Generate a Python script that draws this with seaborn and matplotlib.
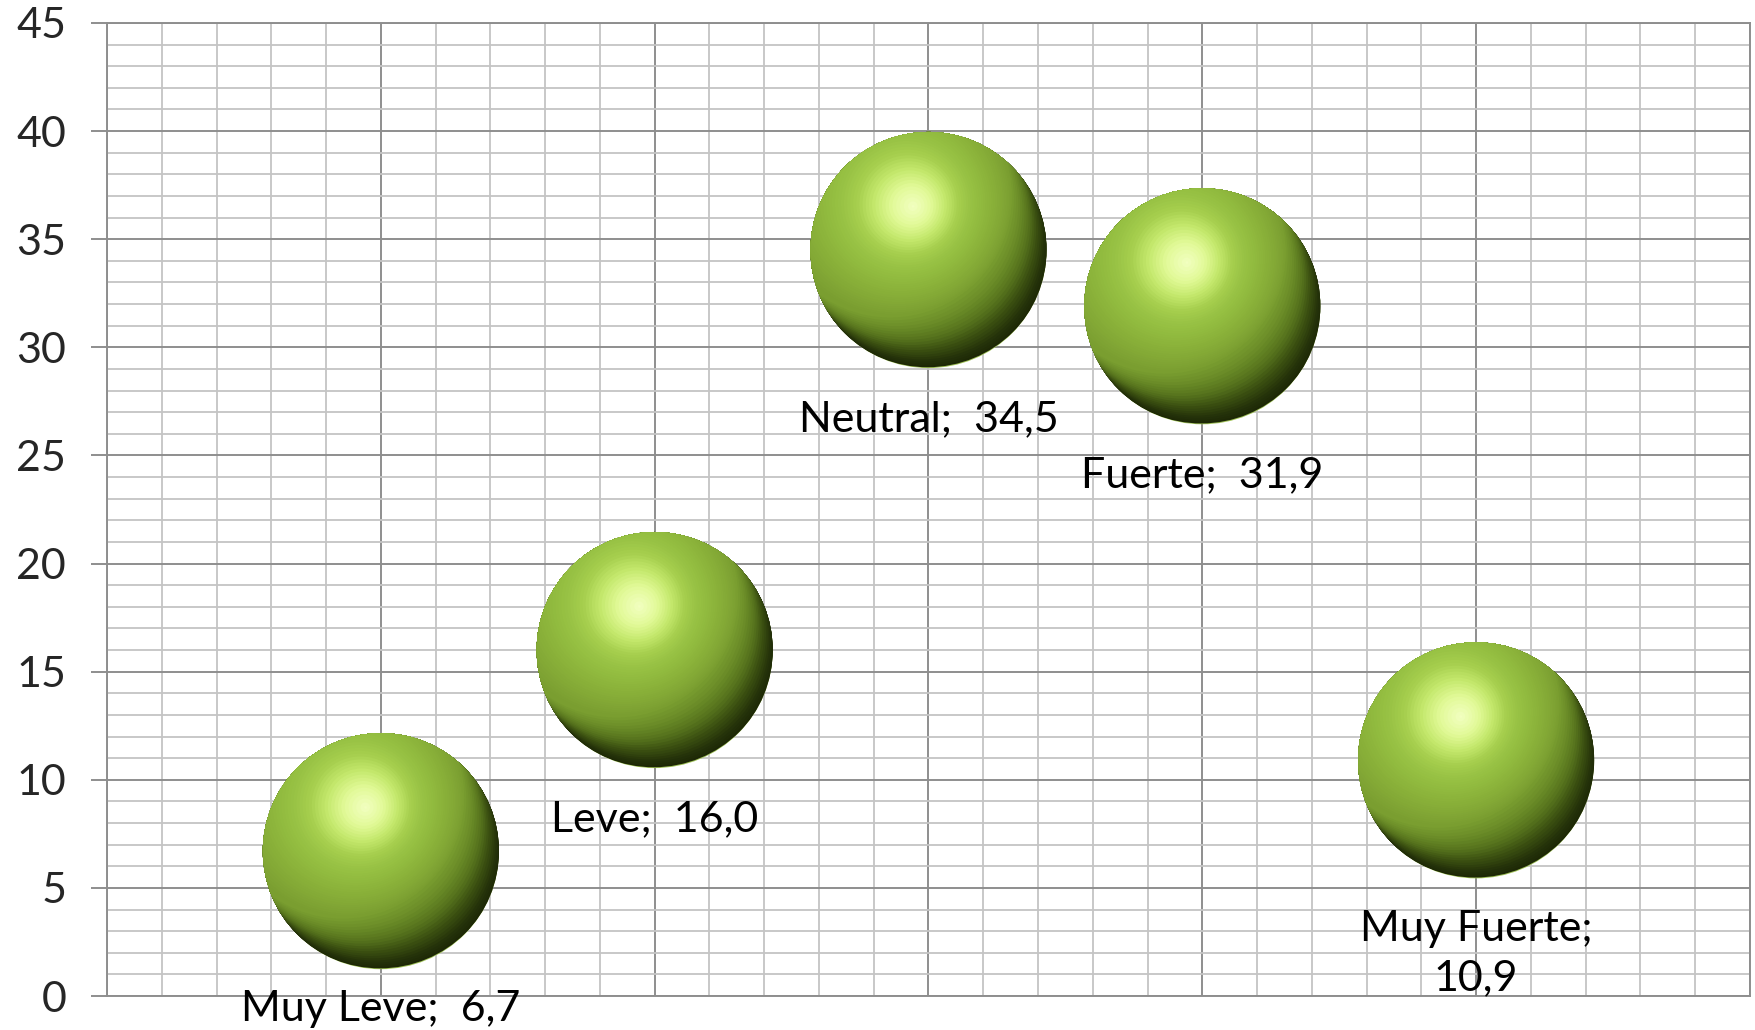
import numpy as np
import pandas as pd
import matplotlib
matplotlib.use("Agg")
import matplotlib.pyplot as plt
import matplotlib.patches as mpatches
import matplotlib.transforms as mtransforms
from matplotlib.ticker import MultipleLocator
import seaborn as sns

# data
categories = ["Muy Leve", "Leve", "Neutral", "Fuerte", "Muy Fuerte"]
x_pos = [1, 2, 3, 4, 5]
values = [6.7, 16.0, 34.5, 31.9, 10.9]
label_text = ["Muy Leve;  6,7", "Leve;  16,0", "Neutral;  34,5",
              "Fuerte;  31,9", "Muy Fuerte;\n10,9"]
y_ticks = [0, 5, 10, 15, 20, 25, 30, 35, 40, 45]

df = pd.DataFrame({"cat": categories, "x": x_pos, "y": values})

sns.set_style("white")
plt.rcParams["font.family"] = ["Lato", "DejaVu Sans"]

DPI = 100
fig = plt.figure(figsize=(17.56, 10.30), dpi=DPI)
ax = fig.add_axes([0.061, 0.033, 0.9355, 0.9447])

ax.set_xlim(0, 6)
ax.set_ylim(0, 45)
ax.xaxis.set_major_locator(MultipleLocator(1))
ax.xaxis.set_minor_locator(MultipleLocator(0.2))
ax.yaxis.set_major_locator(MultipleLocator(5))
ax.yaxis.set_minor_locator(MultipleLocator(1))
ax.grid(which="minor", color="#c4c4c4", linewidth=1.3)
ax.grid(which="major", color="#8e8e8e", linewidth=1.4)
ax.set_axisbelow(True)
for s in ax.spines.values():
    s.set_color("#8e8e8e")
    s.set_linewidth(1.4)

ax.set_xticklabels([])
ax.tick_params(axis="x", which="both", length=0)
ax.tick_params(axis="y", which="major", length=11.5, width=1.4, color="#8e8e8e",
               labelsize=31, pad=18, left=True)
ax.tick_params(axis="y", which="minor", length=0)
ax.set_yticks(y_ticks)
ax.set_yticklabels([str(t) for t in y_ticks])

# --- shaded spheres: clipped stacks of discs ---
D = 170.0  # marker diameter in points
R = D / 2
R_px = R * DPI / 72


def disc(row, diam, dx, dy, color, clip):
    tr = mtransforms.offset_copy(ax.transData, fig=fig, x=dx, y=dy, units="points")
    sns.scatterplot(data=row, x="x", y="y", s=diam ** 2, color=color,
                    edgecolor="none", ax=ax, legend=False, zorder=4,
                    transform=tr)
    coll = ax.collections[-1]
    if clip is not None:
        coll.set_clip_path(clip)


n1 = 22
crescent = sns.blend_palette(["#1a2405", "#26340a", "#3b5011", "#56731d",
                              "#6a8b27", "#7a9e30"], n_colors=n1)
n2 = 44
body = sns.blend_palette(["#7a9e30", "#82a735", "#89b039", "#90b93e",
                          "#98c244", "#a6cf4e", "#c4e86c", "#e2fa98",
                          "#f2ffc0"], n_colors=n2)
cx, cy = -0.6, 0.8   # crescent shift direction (dark side bottom right)
hx, hy = -0.13 * R, 0.37 * R  # highlight position
s_max = 0.27 * D

for j in range(len(df)):
    row = df.iloc[[j]]
    clip = mpatches.Circle(
        (0, 0), 1,
        transform=mtransforms.Affine2D().scale(R_px)
        + mtransforms.ScaledTranslation(row["x"].iloc[0], row["y"].iloc[0],
                                        ax.transData))
    # light rim at the bottom
    disc(row, D, 0, 0, "#a0c258", None)
    # dark crescent, shifted up a little so the rim stays visible
    lift = 2.2
    disc(row, D, 0, lift, crescent[0], clip)
    for i in range(1, n1):
        t = i / (n1 - 1)
        s = s_max * t ** 1.2
        disc(row, D * 1.03, cx * s, cy * s + lift, crescent[i], clip)
    # body and highlight
    ox0, oy0 = cx * s_max, cy * s_max + lift
    for i in range(n2):
        t = (i + 1) / n2
        d = 1.03 * D * (1 - t) ** 0.85
        ox = ox0 + (hx - ox0) * t ** 0.6
        oy = oy0 + (hy - oy0) * t ** 0.6
        disc(row, max(d, 2.0), ox, oy, body[i], clip)

labels = []
for xv, yv, lab in zip(x_pos, values, label_text):
    a = ax.annotate(lab, (xv, yv), xytext=(0, -108), textcoords="offset points",
                    ha="center", va="top", fontsize=31, color="black",
                    linespacing=1.35, annotation_clip=False, zorder=6)
    labels.append(a)

# keep labels inside the figure
fig.canvas.draw()
rend = fig.canvas.get_renderer()
for a in labels:
    bb = a.get_window_extent(rend)
    if bb.y0 < 2:
        x0, y0 = a.xyann
        a.xyann = (x0, y0 + (2 - bb.y0) * 72 / DPI)

ax.set_xlabel("")
ax.set_ylabel("")
fig.savefig("out.png", dpi=DPI)
